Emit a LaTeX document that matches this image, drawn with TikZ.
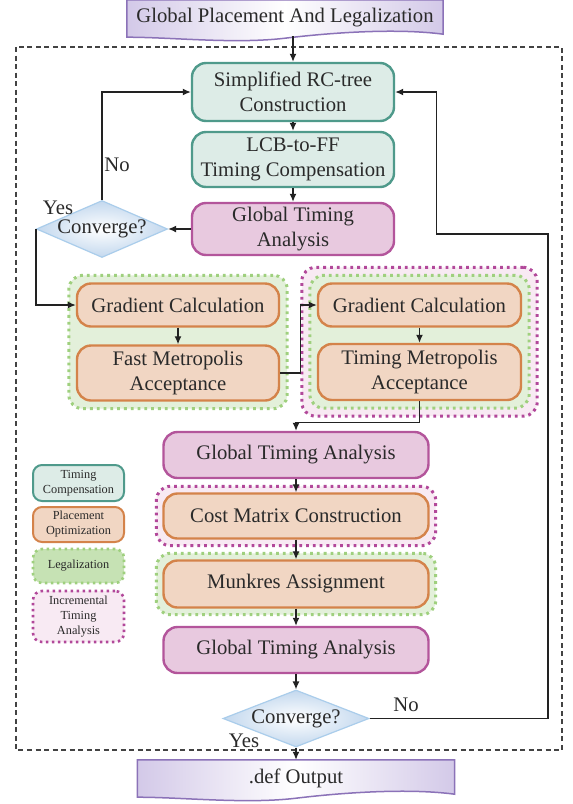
\documentclass[tikz,border=0pt]{standalone}
\usepackage{fontspec}
\setmainfont{Liberation Serif}
\usetikzlibrary{shapes.geometric, arrows.meta, fit, calc, backgrounds}

\definecolor{txt}{HTML}{2A2A2A}
\definecolor{tealf}{HTML}{DDECE7}
\definecolor{teald}{HTML}{4F9A8B}
\definecolor{orngf}{HTML}{F1D6C3}
\definecolor{orngd}{HTML}{D4834A}
\definecolor{magf}{HTML}{E8C9DF}
\definecolor{magd}{HTML}{B3559B}
\definecolor{grnf}{HTML}{E3F0DA}
\definecolor{grnd}{HTML}{9FD07E}
\definecolor{grnk}{HTML}{C6E2B4}
\definecolor{pnkf}{HTML}{F8EAF3}
\definecolor{pnkd}{HTML}{B2489A}
\definecolor{diaf}{HTML}{C3D8EE}
\definecolor{diad}{HTML}{AACDEB}
\definecolor{docf}{HTML}{D3C9E8}
\definecolor{docd}{HTML}{8B72B8}
\definecolor{wire}{HTML}{222222}

\newcommand{\boxfont}{\fontsize{20.7}{24.5}\selectfont}
\newcommand{\keyfont}{\fontsize{12.3}{15}\selectfont}
\newcommand{\wavedoc}[1]{%
  \draw[docline] (#1.north west) -- (#1.north east) -- ($(#1.south east)+(0,-2)$)
    .. controls +(-45,-6) and +(50,-6) .. ($(#1.south)+(0,2)$)
    .. controls +(-50,6) and +(45,0) .. ($(#1.south west)+(0,1)$) -- cycle;}

\tikzset{
  stage/.style={rounded corners=14pt, line width=2.4pt, align=center, font=\boxfont, text=txt, inner sep=2pt},
  compstage/.style={stage, draw=teald, fill=tealf, minimum width=202pt},
  optstage/.style={stage, draw=orngd, fill=orngf},
  stastage/.style={stage, draw=magd, fill=magf},
  decide/.style={diamond, shape aspect=2.3, inner sep=0pt, draw=diad, line width=1.2pt,
    inner color=white, outer color=diaf, font=\boxfont, text=txt},
  lbl/.style={font=\boxfont, text=txt, inner sep=0pt},
  legrp/.style={rounded corners=14pt, draw=grnd, fill=grnf, line width=3pt, dash pattern=on 2.8pt off 4pt},
  incgrp/.style={legrp, draw=pnkd, fill=pnkf},
  arr/.style={draw=wire, line width=1.3pt, -{Latex[length=8pt,width=7pt]}},
  docnode/.style={minimum width=316pt, minimum height=36pt, font=\boxfont, text=txt, inner sep=0pt},
  docline/.style={draw=docd, line width=1.5pt, left color=docf, right color=docf, middle color=white},
  key/.style={rounded corners=9pt, line width=2pt, minimum width=91pt, align=center, font=\keyfont, text=txt, inner sep=1pt},
  frame/.style={draw=wire!85, line width=1.2pt, dash pattern=on 5pt off 3.5pt}
}

\begin{document}
\begin{tikzpicture}[x=1pt, y=-1pt]
  \useasboundingbox (0,0) rectangle (573,804);

  \node[docnode] (gpl) at (285,18) {Global Placement And Legalization};
  \node[compstage, minimum height=58pt] (rc) at (293,92) {Simplified RC-tree\\Construction};
  \node[compstage, minimum height=55pt] (lcb) at (293,159.5) {LCB-to-FF\\Timing Compensation};
  \node[stastage, minimum width=202pt, minimum height=52pt] (gta1) at (293,229) {Global Timing\\Analysis};
  \node[decide, minimum width=130pt, minimum height=56pt] (cv1) at (102,229) {Converge?};
  \node[optstage, minimum width=202pt, minimum height=43pt] (gc1) at (178,305) {Gradient Calculation};
  \node[optstage, minimum width=202pt, minimum height=55pt] (fm1) at (178,373) {Fast Metropolis\\Acceptance};
  \node[optstage, minimum width=203pt, minimum height=43pt] (gc2) at (419.5,305) {Gradient Calculation};
  \node[optstage, minimum width=203pt, minimum height=56pt] (tm2) at (419.5,372) {Timing Metropolis\\Acceptance};
  \node[stastage, minimum width=265pt, minimum height=46pt] (gta2) at (296,455) {Global Timing Analysis};
  \node[optstage, minimum width=265pt, minimum height=45pt] (cm) at (296,516) {Cost Matrix Construction};
  \node[optstage, minimum width=265pt, minimum height=47pt] (mk) at (296,584) {Munkres Assignment};
  \node[stastage, minimum width=265pt, minimum height=46pt] (gta3) at (296,650) {Global Timing Analysis};
  \node[decide, minimum width=146pt, minimum height=54pt] (cv2) at (296,718.5) {Converge?};
  \node[docnode, minimum width=317pt] (def) at (296,778) {.def Output};

  \node[key, draw=teald, fill=tealf, minimum height=36pt] (kcomp) at (78.5,483) {Timing\\Compensation};
  \node[key, draw=orngd, fill=orngf, minimum height=35pt] (kopt) at (78.5,524.5) {Placement\\Optimization};
  \node[key, draw=grnd, fill=grnk, line width=2.6pt, dash pattern=on 2.5pt off 3.5pt, minimum height=34pt] (klgl) at (78.5,566) {Legalization};
  \node[key, draw=pnkd, fill=pnkf, line width=2.6pt, dash pattern=on 2.5pt off 3.5pt, minimum height=51pt] (kinc) at (78.5,616.5) {Incremental\\Timing\\Analysis};

  \node[lbl] (no1) at (117,165) {No};
  \node[lbl] (yes1) at (58,208) {Yes};
  \node[lbl] (no2) at (406,705) {No};
  \node[lbl] (yes2) at (244,741) {Yes};

  \draw[frame] (16,47) rectangle (562,750);

  \draw[arr] (rc.north |- gpl.south) -- (rc);
  \draw[arr] (rc) -- (lcb);
  \draw[arr] (lcb) -- (gta1);
  \draw[arr] (gta1.west) -- (cv1.east);
  \draw[arr] (cv1.north) |- (rc.west);
  \draw[arr] (cv1.west) |- (gc1.west);
  \draw[arr] (gc1) -- (fm1);
  \draw[arr] (fm1.east) -- ++(20,0) |- (gc2.west);
  \draw[arr] (gc2) -- (tm2);
  \draw[arr] (tm2.south) -- ++(0,21) -| (gta2.north);
  \draw[arr] (gta2) -- (cm);
  \draw[arr] (cm) -- (mk);
  \draw[arr] (mk) -- (gta3);
  \draw[arr] (gta3) -- (cv2);
  \draw[arr] (cv2) -- (def);
  \coordinate (back) at (548,234);
  \draw[arr] (cv2.east) -| (back) -| ($(rc.east)+(41,0)$) -- (rc.east);

  \begin{scope}[on background layer]
    \fill[white] (0,0) rectangle (573,804);
    \node[legrp, fit=(gc1)(fm1), inner sep=7pt] (lgl1) {};
    \node[incgrp, fit=(gc2)(tm2), inner sep=15pt] (inc2) {};
    \node[legrp, fit=(gc2)(tm2), inner sep=7pt] (lgl2) {};
    \node[incgrp, fit=(cm), inner sep=6pt] (inc3) {};
    \node[legrp, fit=(mk), inner sep=6pt] (lgl3) {};
    \wavedoc{gpl}
    \wavedoc{def}
  \end{scope}
\end{tikzpicture}
\end{document}
